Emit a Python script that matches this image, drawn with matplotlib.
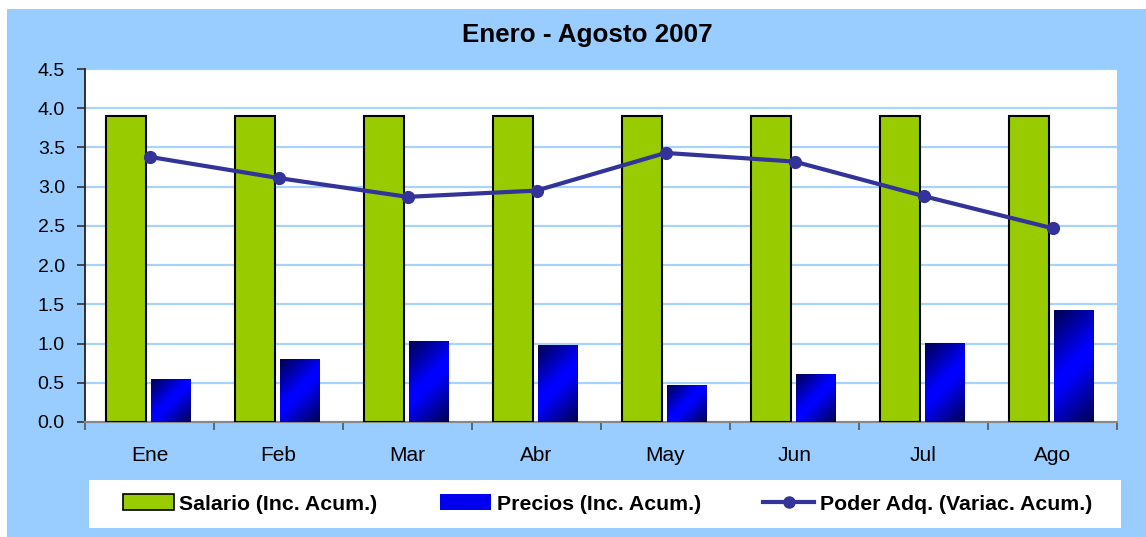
import matplotlib.pyplot as plt
import numpy as np
from matplotlib.patches import Rectangle, Patch
from matplotlib.lines import Line2D
from matplotlib.colors import LinearSegmentedColormap

plt.rcParams['font.family'] = ['Liberation Sans', 'DejaVu Sans']

# --- データ ---
meses = ["Ene", "Feb", "Mar", "Abr", "May", "Jun", "Jul", "Ago"]
salario = [3.9, 3.9, 3.9, 3.9, 3.9, 3.9, 3.9, 3.9]
precios = [0.54, 0.80, 1.03, 0.97, 0.46, 0.60, 1.00, 1.42]
poder = [3.38, 3.11, 2.87, 2.95, 3.43, 3.32, 2.88, 2.47]

BG = "#99CCFF"
GREEN = "#99CC00"
LINE = "#333399"

W, H = 1146, 537
fig = plt.figure(figsize=(W / 100, H / 100), dpi=100)
fig.patch.set_facecolor("white")
fig.patches.append(Rectangle((7 / W, 0), 1 - 7 / W, 1 - 9 / H, transform=fig.transFigure,
                             facecolor=BG, edgecolor="none", zorder=-10))
# 凡例の白い枠
fig.patches.append(Rectangle((89 / W, (H - 528) / H), (1121 - 89) / W, 48 / H,
                             transform=fig.transFigure, facecolor="white",
                             edgecolor="none", zorder=-9))

ax = fig.add_axes([85 / W, (H - 422) / H, (1117 - 85) / W, (422 - 69) / H])
ax.set_facecolor("white")

x = np.arange(len(meses))
bw = 0.31
ax.bar(x - 0.18, salario, width=bw, color=GREEN, edgecolor="black", linewidth=1.5, zorder=3)

# --- 青いバー（グラデーション） ---
cmap = LinearSegmentedColormap.from_list(
    "azul", [(0, "#000050"), (0.45, "#0000FF"), (0.55, "#0000FF"), (1, "#000050")])
blue_bars = ax.bar(x + 0.163, precios, width=bw, color="#0000FF", linewidth=0, zorder=3)
px_per_x = (1117 - 85) / len(meses)
px_per_y = (422 - 69) / 4.5
for b in blue_bars:
    x0, y0 = b.get_x(), b.get_y()
    wpx = b.get_width() * px_per_x
    hpx = b.get_height() * px_per_y
    # 45度の斜めグラデーション：左上と右下が暗い（行0 = 下端）
    gu, gv = np.meshgrid(np.linspace(0, wpx, 80), np.linspace(0, hpx, 80))
    grad = (gu + (hpx - gv)) / (wpx + hpx)
    ax.imshow(grad, cmap=cmap, vmin=0, vmax=1,
              extent=[x0, x0 + b.get_width(), y0, y0 + b.get_height()],
              aspect="auto", zorder=3.5, interpolation="bilinear", origin="lower")

ax.plot(x, poder, color=LINE, linewidth=3, marker="o", markersize=8.5, zorder=5)

ax.set_xlim(-0.5, len(meses) - 0.5)
ax.set_ylim(0, 4.5)
ax.set_yticks(np.arange(0, 4.51, 0.5))
ax.set_yticklabels([f"{v:.1f}" for v in np.arange(0, 4.51, 0.5)])
ax.yaxis.grid(True, color="#A8D3FF", linewidth=1.6, zorder=0)
ax.set_axisbelow(True)

ax.set_xticks(x)
ax.set_xticklabels(meses)
ax.set_xticks(np.arange(-0.5, len(meses), 1), minor=True)
ax.tick_params(axis="x", which="major", length=0, pad=17, labelsize=15)
ax.tick_params(axis="x", which="minor", length=6, width=1.2, color="#555555", direction="out")
ax.tick_params(axis="y", length=6, width=1.2, color="#333333", pad=8.5, labelsize=14)

for s in ["top", "right"]:
    ax.spines[s].set_visible(False)
ax.spines["left"].set_color("#222222")
ax.spines["left"].set_linewidth(1.3)
ax.spines["bottom"].set_color("#888888")
ax.spines["bottom"].set_linewidth(1.5)

fig.text(587 / W, 1 - 35 / H, "Enero - Agosto 2007", ha="center", va="center",
         fontsize=18.7, fontweight="bold")

# --- 凡例 ---
handles = [
    Patch(facecolor=GREEN, edgecolor="black", linewidth=1.2, label="Salario (Inc. Acum.)"),
    Patch(facecolor="#0000EE", edgecolor="none", label="Precios (Inc. Acum.)"),
    Line2D([0], [0], color=LINE, linewidth=3, marker="o", markersize=8, label="Poder Adq. (Variac. Acum.)"),
]
leg = fig.legend(handles=handles, loc="center", ncol=3, mode="expand",
                 bbox_to_anchor=(123 / W, (H - 524) / H, (1092 - 123) / W, 40 / H),
                 frameon=False, borderaxespad=0, borderpad=0,
                 handlelength=2.4, handleheight=0.75, handletextpad=0.25,
                 prop={"size": 15.3, "weight": "bold"})

fig.savefig("out.png", dpi=100)
